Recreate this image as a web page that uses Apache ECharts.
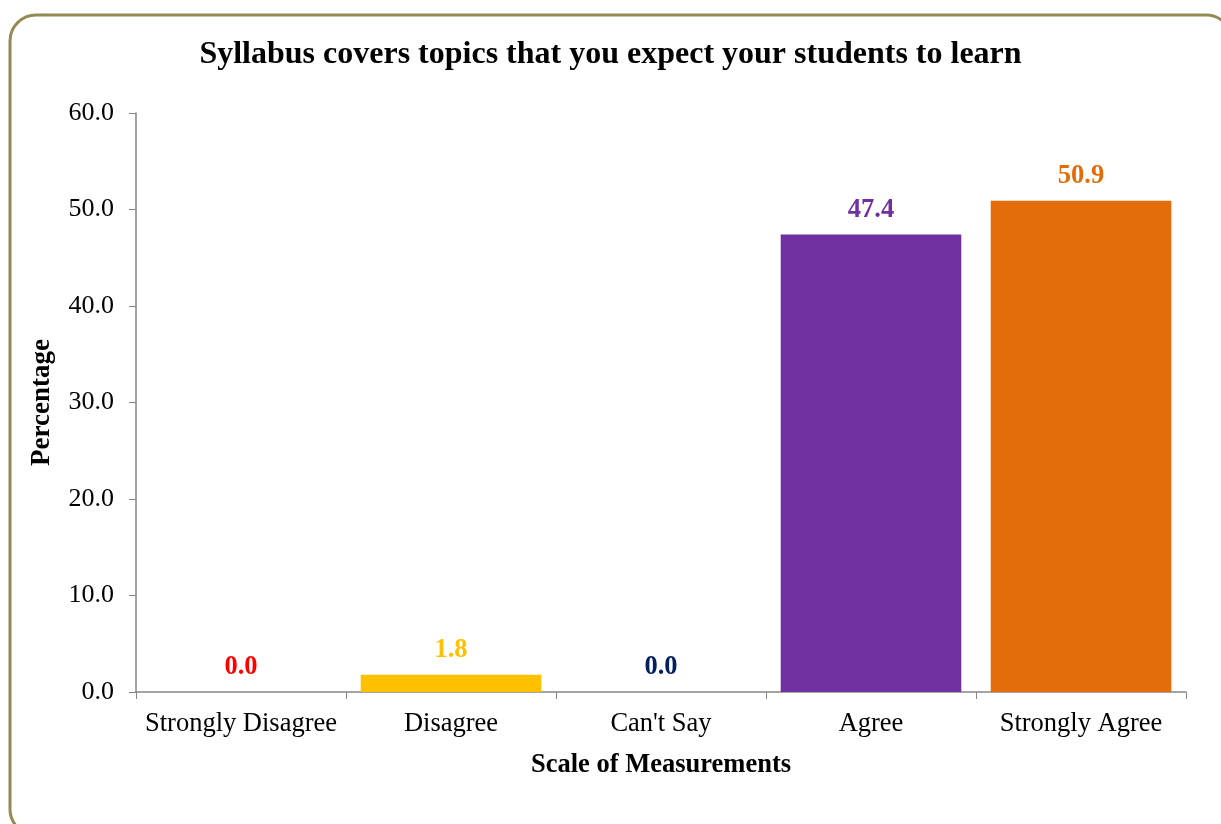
<!DOCTYPE html>
<html>
<head>
<meta charset="utf-8">
<script src="https://cdn.jsdelivr.net/npm/echarts@6/dist/echarts.min.js"></script>
<style>
  html, body { margin: 0; padding: 0; background: #fff; }
  #chart { width: 1221px; height: 824px; }
</style>
</head>
<body>
<div id="chart"></div>
<script>
// data
const categories = ['Strongly Disagree', 'Disagree', "Can't Say", 'Agree', 'Strongly Agree'];
const values = [0.0, 1.8, 0.0, 47.4, 50.9];
const barColors = ['#ff0000', '#ffc000', '#002060', '#7030a0', '#e46c0a'];
const labelColors = ['#ff0000', '#ffc000', '#002060', '#7030a0', '#e36c09'];

const serif = '"Liberation Serif", "DejaVu Serif", serif';

const chart = echarts.init(document.getElementById('chart'));

chart.setOption({
  animation: false,
  title: {
    text: 'Syllabus covers topics that you expect your students to learn',
    left: 'center',
    top: 34,
    textStyle: { fontFamily: serif, fontSize: 32, fontWeight: 'bold', color: '#000' }
  },
  graphic: [
    {
      type: 'rect',
      shape: { x: 10, y: 15, width: 1222, height: 820, r: 26 },
      style: { fill: 'none', stroke: '#948a54', lineWidth: 3 },
      z: 100
    }
  ],
  grid: { left: 136, right: 35, top: 113, bottom: 132, containLabel: false },
  xAxis: {
    type: 'category',
    data: categories,
    name: 'Scale of Measurements',
    nameLocation: 'middle',
    nameGap: 60,
    nameTextStyle: { fontFamily: serif, fontSize: 26.5, fontWeight: 'bold', color: '#000' },
    axisLine: { lineStyle: { color: '#868686', width: 1.5 } },
    axisTick: { show: true, interval: 0, length: 7, lineStyle: { color: '#868686' } },
    axisLabel: { interval: 0, fontFamily: serif, fontSize: 26.5, color: '#000', margin: 19 }
  },
  yAxis: {
    type: 'value',
    min: 0,
    max: 60,
    interval: 10,
    name: 'Percentage',
    nameLocation: 'middle',
    nameGap: 80,
    nameRotate: 90,
    nameTextStyle: { fontFamily: serif, fontSize: 27, fontWeight: 'bold', color: '#000' },
    axisLine: { show: true, lineStyle: { color: '#868686', width: 1.5 } },
    axisTick: { show: true, length: 7, lineStyle: { color: '#868686' } },
    splitLine: { show: false },
    axisLabel: {
      fontFamily: serif, fontSize: 26, color: '#000', margin: 22,
      formatter: v => v.toFixed(1)
    }
  },
  series: [
    {
      type: 'bar',
      barCategoryGap: '14%',
      data: values.map((v, i) => ({
        value: v,
        itemStyle: { color: barColors[i] },
        label: { color: labelColors[i] }
      })),
      label: {
        show: true,
        position: 'top',
        distance: 11,
        fontFamily: serif,
        fontSize: 26.5,
        fontWeight: 'bold',
        formatter: p => p.value.toFixed(1)
      }
    }
  ]
});
</script>
</body>
</html>
